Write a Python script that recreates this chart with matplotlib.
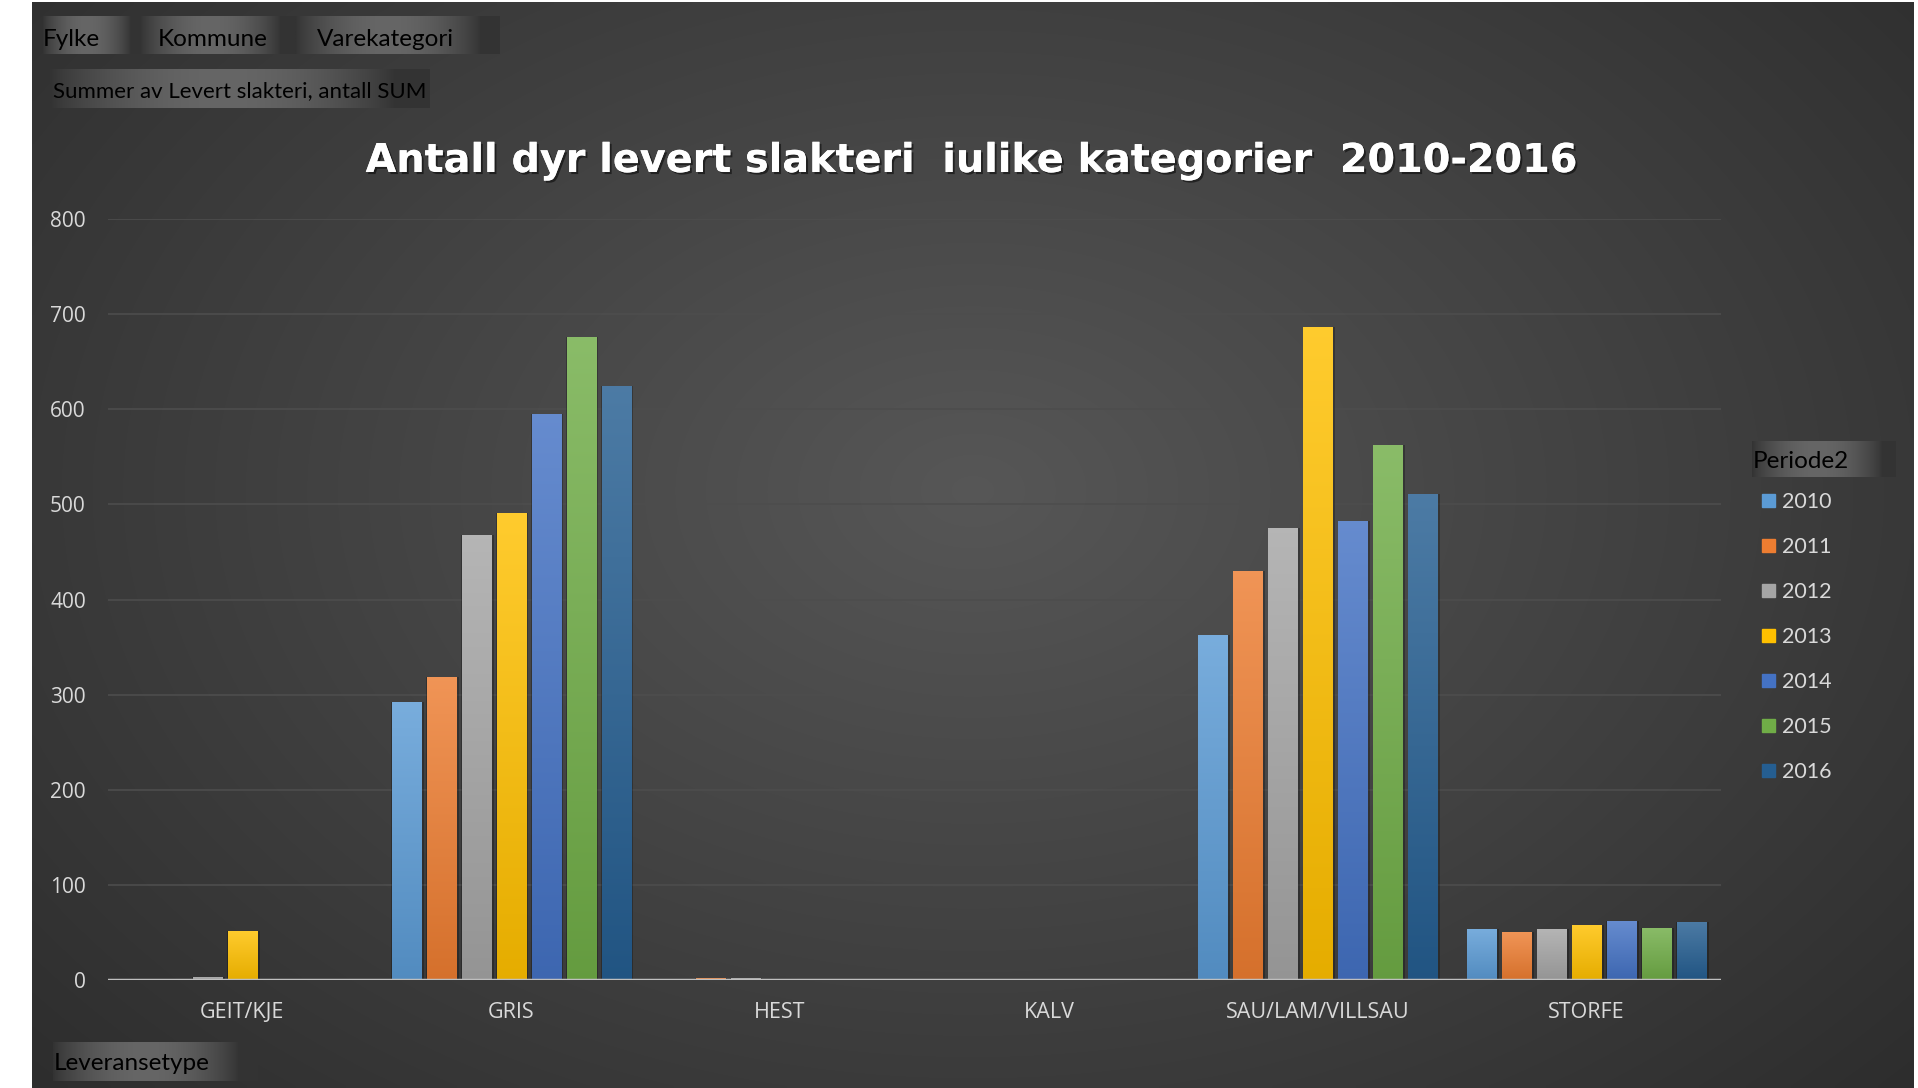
import numpy as np
import matplotlib.pyplot as plt
import matplotlib.patheffects as pe
from matplotlib.colors import to_rgb

# Data
categories = ["GEIT/KJE", "GRIS", "HEST", "KALV", "SAU/LAM/VILLSAU", "STORFE"]
years = ["2010", "2011", "2012", "2013", "2014", "2015", "2016"]
v2010 = [0, 292, 0, 0, 363, 54]
v2011 = [0, 319, 2, 0, 430, 50]
v2012 = [3.5, 468, 2, 0, 475, 54]
v2013 = [52, 491, 0.7, 0, 686, 58]
v2014 = [0, 595, 0.7, 0, 482, 62]
v2015 = [0, 676, 0, 0, 562, 55]
v2016 = [0, 624, 0, 0.7, 511, 61]
series = [v2010, v2011, v2012, v2013, v2014, v2015, v2016]
colors = ["#5B9BD5", "#ED7D31", "#A5A5A5", "#FFC000", "#4472C4", "#70AD47", "#255E91"]

W, H = 1918, 1088
fig = plt.figure(figsize=(W / 100, H / 100), dpi=100, facecolor="white")

# background layer in pixel coords
bg = fig.add_axes([0, 0, 1, 1], zorder=0)
bg.set_xlim(0, W)
bg.set_ylim(H, 0)
bg.axis("off")

x0, x1, y0, y1 = 32, 1914, 2, H
xx, yy = np.meshgrid(np.linspace(0, 1, 400), np.linspace(0, 1, 240))
r = np.sqrt(((xx - 0.5) / 0.75) ** 2 + ((yy - 0.45) / 0.9) ** 2)
g = np.clip(0.34 - 0.18 * r, 0.16, 0.35)
bg.imshow(np.dstack([g, g, g]), extent=(x0, x1, y1, y0), aspect="auto",
          interpolation="bilinear", zorder=0)


def button(xa, xb, ya, yb, peak=0.40):
    t = np.linspace(0, 1, 200)
    prof = 0.20 + (peak - 0.20) * np.sin(np.pi * np.clip(t * 1.1, 0, 1)) ** 0.8
    img = np.tile(prof, (10, 1))
    bg.imshow(np.dstack([img, img, img]), extent=(xa, xb, yb, ya), aspect="auto",
              interpolation="bilinear", zorder=1)


button(43, 140, 16, 54)
button(140, 295, 16, 54)
button(295, 500, 16, 54)
button(50, 430, 69, 108)
button(53, 258, 1042, 1081)
button(1752, 1896, 441, 477)

tf = "Lato"
bg.text(43, 39, "Fylke", fontsize=17.5, family=tf, color="black", va="center", zorder=2)
bg.text(158, 39, "Kommune", fontsize=17.5, family=tf, color="black", va="center", zorder=2)
bg.text(317, 39, "Varekategori", fontsize=17.5, family=tf, color="black", va="center", zorder=2)
bg.text(53, 91, "Summer av Levert slakteri, antall SUM", fontsize=16, family=tf,
        color="black", va="center", zorder=2)
bg.text(54, 1063, "Leveransetype", fontsize=17.5, family=tf, color="black", va="center", zorder=2)
bg.text(1753, 462, "Periode2", fontsize=17.5, family=tf, color="black", va="center", zorder=2)

# legend
for i, (yr, c) in enumerate(zip(years, colors)):
    yc = 501 + 45 * i
    bg.add_patch(plt.Rectangle((1762, yc - 7), 13, 13, color=c, zorder=2))
    bg.text(1782, yc + 1, yr, fontsize=15.5, family=tf, color="#d9d9d9", va="center", zorder=2)

fig.text(973 / W, 1 - 161 / H, "Antall dyr levert slakteri  iulike kategorier  2010-2016",
         fontsize=28.6, fontweight="bold", family="DejaVu Sans", color="white",
         ha="center", va="center", zorder=5,
         path_effects=[pe.withSimplePatchShadow(offset=(1.5, -1.5), alpha=0.5, shadow_rgbFace="black"),
                       pe.Normal()])

# chart axes
ax = fig.add_axes([108 / W, 1 - 980 / H, (1721 - 108) / W, (980 - 219) / H], zorder=3)
ax.patch.set_alpha(0)
x = np.arange(len(categories))
step, bw = 0.130, 0.108
ax.set_yticks(range(0, 801, 100))
ax.grid(axis="y", color="#4d4d4d", linewidth=1.2, zorder=0)
ax.set_axisbelow(True)

grad = np.linspace(0, 1, 100).reshape(-1, 1)
for i, (vals, c) in enumerate(zip(series, colors)):
    pos = x + (i - 3) * step
    # soft shadow
    ax.bar(pos + 0.004, vals, bw + 0.012, color="black", alpha=0.25, zorder=1, linewidth=0)
    bars = ax.bar(pos, vals, bw, color=c, zorder=2, linewidth=0, label=years[i])
    base = np.array(to_rgb(c))
    top = base + (1 - base) * 0.18
    bot = base * 0.9
    img = bot + (top - bot) * grad[:, :, None] * np.ones((1, 1, 3))
    for b in bars:
        if b.get_height() <= 0:
            continue
        im = ax.imshow(img, extent=(b.get_x(), b.get_x() + b.get_width(), 0, b.get_height()),
                       origin="lower", aspect="auto", zorder=2, interpolation="bilinear")
        im.set_clip_path(b)
ax.set_xlim(-0.5, len(categories) - 0.5)
ax.set_ylim(0, 800)
ax.axhline(0, color="#bfbfbf", linewidth=2.5, zorder=4)

ax.set_xticks(x)
ax.set_xticklabels(categories)
ax.tick_params(length=0, colors="#d9d9d9", labelsize=15.5)
ax.tick_params(axis="y", pad=16, labelsize=15)
ax.tick_params(axis="x", pad=16)
for lbl in ax.get_xticklabels() + ax.get_yticklabels():
    lbl.set_family("Open Sans")
for s in ax.spines.values():
    s.set_visible(False)

fig.savefig("out.png", dpi=100, facecolor="white")
